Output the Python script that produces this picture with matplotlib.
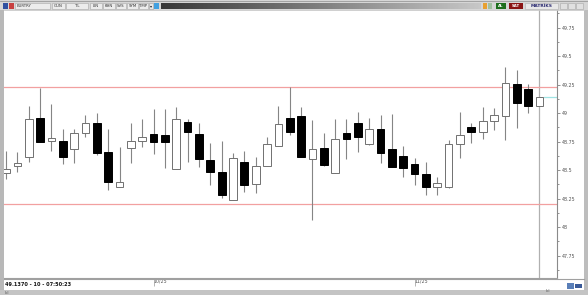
import numpy as np
import matplotlib.pyplot as plt
from matplotlib.patches import Rectangle
from matplotlib.lines import Line2D

# EURTRY daily candles
opens = [48.474, 48.535, 48.614, 48.956, 48.754, 48.754, 48.684, 48.825, 48.912, 48.658,
         48.351, 48.693, 48.754, 48.816, 48.807, 48.509, 48.921, 48.816, 48.588, 48.482,
         48.237, 48.570, 48.377, 48.535, 48.711, 48.956, 48.974, 48.596, 48.693, 48.474,
         48.825, 48.912, 48.728, 48.860, 48.684, 48.623, 48.553, 48.465, 48.351, 48.351,
         48.728, 48.877, 48.833, 48.930, 48.974, 49.254, 49.211, 49.061]
highs = [48.667, 48.658, 49.061, 49.219, 49.079, 48.860, 48.860, 48.982, 49.000, 48.860,
         48.702, 48.912, 48.947, 49.035, 49.035, 49.053, 48.947, 48.912, 48.737, 48.754,
         48.649, 48.667, 48.614, 48.789, 49.061, 49.228, 49.053, 48.939, 48.825, 48.947,
         48.947, 49.009, 48.956, 48.982, 48.991, 48.711, 48.605, 48.570, 48.439, 48.763,
         49.009, 48.912, 49.053, 49.044, 49.404, 49.377, 49.254, 49.140]
lows = [48.421, 48.482, 48.570, 48.746, 48.667, 48.553, 48.561, 48.789, 48.632, 48.325,
        48.351, 48.561, 48.702, 48.640, 48.518, 48.509, 48.570, 48.526, 48.368, 48.254,
        48.237, 48.307, 48.298, 48.535, 48.711, 48.807, 48.614, 48.061, 48.535, 48.474,
        48.596, 48.658, 48.719, 48.561, 48.526, 48.439, 48.368, 48.281, 48.281, 48.342,
        48.605, 48.737, 48.772, 48.851, 48.763, 48.868, 49.000, 49.061]
closes = [48.509, 48.561, 48.947, 48.746, 48.781, 48.614, 48.825, 48.912, 48.649, 48.395,
          48.395, 48.754, 48.789, 48.746, 48.746, 48.947, 48.833, 48.596, 48.482, 48.281,
          48.605, 48.368, 48.535, 48.728, 48.904, 48.833, 48.614, 48.684, 48.544, 48.772,
          48.772, 48.789, 48.860, 48.649, 48.526, 48.518, 48.465, 48.351, 48.386, 48.728,
          48.807, 48.833, 48.930, 48.982, 49.263, 49.088, 49.061, 49.137]

resistance = 49.23
support = 48.20
last_price = 49.137
date_labels = ["10/25", "11/25"]
date_idx = [13, 36]
info_text = "49.1370 - 10 - 07:50:23"
toolbar_items = ["EURTRY", "GUN", "TL", "LIN", "KHN", "SVS", "SYM", "TMP"]

W, H = 588, 295


def frect(x0, y0, x1, y1, **kw):
    # rectangle in pixel coords, origin top-left
    fig.add_artist(Rectangle((x0 / W, 1 - y1 / H), (x1 - x0) / W, (y1 - y0) / H,
                             transform=fig.transFigure, **kw))


def fline(xs, ys, **kw):
    fig.add_artist(Line2D([x / W for x in xs], [1 - y / H for y in ys],
                          transform=fig.transFigure, **kw))


def ftext(x, y, s, **kw):
    fig.text(x / W, 1 - y / H, s, **kw)


fig = plt.figure(figsize=(5.88, 2.95), dpi=100, facecolor="#cfcfcf")

# white chart panel
frect(3, 10, 584, 290, facecolor="white", edgecolor="none", zorder=0)

ax = fig.add_axes([4 / W, 1 - 278 / H, 553 / W, 268 / H])
ax.set_facecolor("white")
n = len(opens)
idx = np.arange(n)
o = np.array(opens); c = np.array(closes)
hi = np.array(highs); lo = np.array(lows)
up = c >= o

ax.axvline(47, color="#b0b0b0", lw=0.9, zorder=1)
ax.axhline(resistance, color="#f2a0a0", lw=0.9, zorder=1)
ax.axhline(support, color="#f2a0a0", lw=0.9, zorder=1)
ax.plot([47.4, 48.6], [last_price, last_price], color="#9fe3e3", lw=0.9, zorder=1)

ax.vlines(idx, lo, hi, color="#858585", lw=0.8, zorder=2)
body_lo = np.minimum(o, c)
body_h = np.maximum(np.abs(c - o), 0.004)
ax.bar(idx[up], body_h[up], bottom=body_lo[up], width=0.68,
       facecolor="white", edgecolor="#707070", linewidth=0.7, zorder=3)
ax.bar(idx[~up], body_h[~up], bottom=body_lo[~up], width=0.68,
       facecolor="black", edgecolor="black", linewidth=0.7, zorder=3)

ax.set_xlim(-0.18, 48.55)
ax.set_ylim(47.553, 49.904)

ax.yaxis.tick_right()
ax.set_yticks(np.arange(47.75, 49.76, 0.25))
ax.set_yticks(np.arange(47.625, 49.9, 0.125), minor=True)
ax.set_yticklabels(["%g" % v for v in np.arange(47.75, 49.76, 0.25)])
ax.tick_params(axis="y", which="major", length=2.5, width=0.5, color="#666",
               labelsize=3.4, labelcolor="#555", pad=0.8)
ax.tick_params(axis="y", which="minor", length=1.5, width=0.5, color="#666")

ax.set_xticks(date_idx)
ax.set_xticklabels(date_labels, ha="left")
ax.tick_params(axis="x", length=6, width=0.5, color="#999", direction="out",
               labelsize=3.4, labelcolor="#555", pad=-5.5)

for side in ["left", "top"]:
    ax.spines[side].set_visible(False)
ax.spines["right"].set_color("#8a8a8a")
ax.spines["right"].set_linewidth(0.8)
ax.spines["bottom"].set_color("#a0a0a0")
ax.spines["bottom"].set_linewidth(0.8)

# frame lines
fline([4, 584], [278.5, 278.5], color="#a0a0a0", lw=0.8)
fline([4, 584], [10, 10], color="#c8c8c8", lw=0.6)
frect(0, 0, 3.5, 295, facecolor="#b8b8b8", edgecolor="none")
frect(584, 0, 588, 295, facecolor="#bdbdbd", edgecolor="none")
frect(0, 290, 588, 295, facecolor="#c4c4c4", edgecolor="none")

# info box at bottom left
ftext(5, 284.5, info_text, fontsize=3.6, fontweight="bold", color="#111", va="center")
ftext(5, 292.5, "ılıl", fontsize=3, color="#555", va="center")
ftext(546, 291, "ılıl", fontsize=3, color="#555", va="center")
frect(567, 283, 574, 289, facecolor="#5a7fb8", edgecolor="none")
frect(575, 284, 582, 288, facecolor="#3a5a98", edgecolor="none")

# toolbar
frect(0, 0, 588, 10, facecolor="#d6d6d6", edgecolor="none")
fline([0, 588], [0.6, 0.6], color="#9a9a9a", lw=0.6)
frect(3, 3, 8, 9, facecolor="#3050a0", edgecolor="none")
frect(9, 3, 14, 9, facecolor="#c84040", edgecolor="none")
xs = [15, 52, 66, 90, 103, 116, 127, 139]
xe = [50, 65, 88, 102, 115, 126, 138, 148]
for s, a, b in zip(toolbar_items, xs, xe):
    frect(a, 2.5, b, 9, facecolor="#ececec", edgecolor="#a8a8a8", linewidth=0.4)
    ftext(a + 2 if s == "EURTRY" else (a + b) / 2, 6, s, fontsize=2.8, color="#333",
          va="center", ha="left" if s == "EURTRY" else "center")
frect(149, 3, 153, 9, facecolor="#e8e8e8", edgecolor="#a0a0a0", linewidth=0.4)
ftext(151, 6, "▾", fontsize=3, color="#222", ha="center", va="center")
frect(154, 3, 159, 9, facecolor="#40a0e0", edgecolor="none")

gax = fig.add_axes([161 / W, 1 - 9 / H, 320 / W, 6.5 / H])
gax.imshow(np.linspace(0.22, 0.78, 256)[None, :], aspect="auto", cmap="gray",
           vmin=0, vmax=1)
gax.axis("off")
gax.set_zorder(5)

frect(483, 3, 487, 9, facecolor="#e8a030", edgecolor="none")
frect(488, 3, 492, 9, facecolor="#a0c0a0", edgecolor="none")
frect(496, 3, 506, 9, facecolor="#1d6e1d", edgecolor="none")
ftext(501, 6, "AL", fontsize=2.8, color="white", ha="center", va="center", fontweight="bold")
frect(509, 3, 523, 9, facecolor="#8a1414", edgecolor="none")
ftext(516, 6, "SAT", fontsize=2.8, color="white", ha="center", va="center", fontweight="bold")
frect(525, 3, 558, 9, facecolor="#e8e8e8", edgecolor="#b0b0b0", linewidth=0.4)
ftext(541.5, 6, "MATRİKS", fontsize=3.2, color="#2a2a70", ha="center", va="center",
      fontweight="bold")
for bx in [560, 568, 576]:
    frect(bx, 3, bx + 7, 9, facecolor="#e0e0e0", edgecolor="#a8a8a8", linewidth=0.4)

fig.savefig("out.png", dpi=100, facecolor=fig.get_facecolor())
